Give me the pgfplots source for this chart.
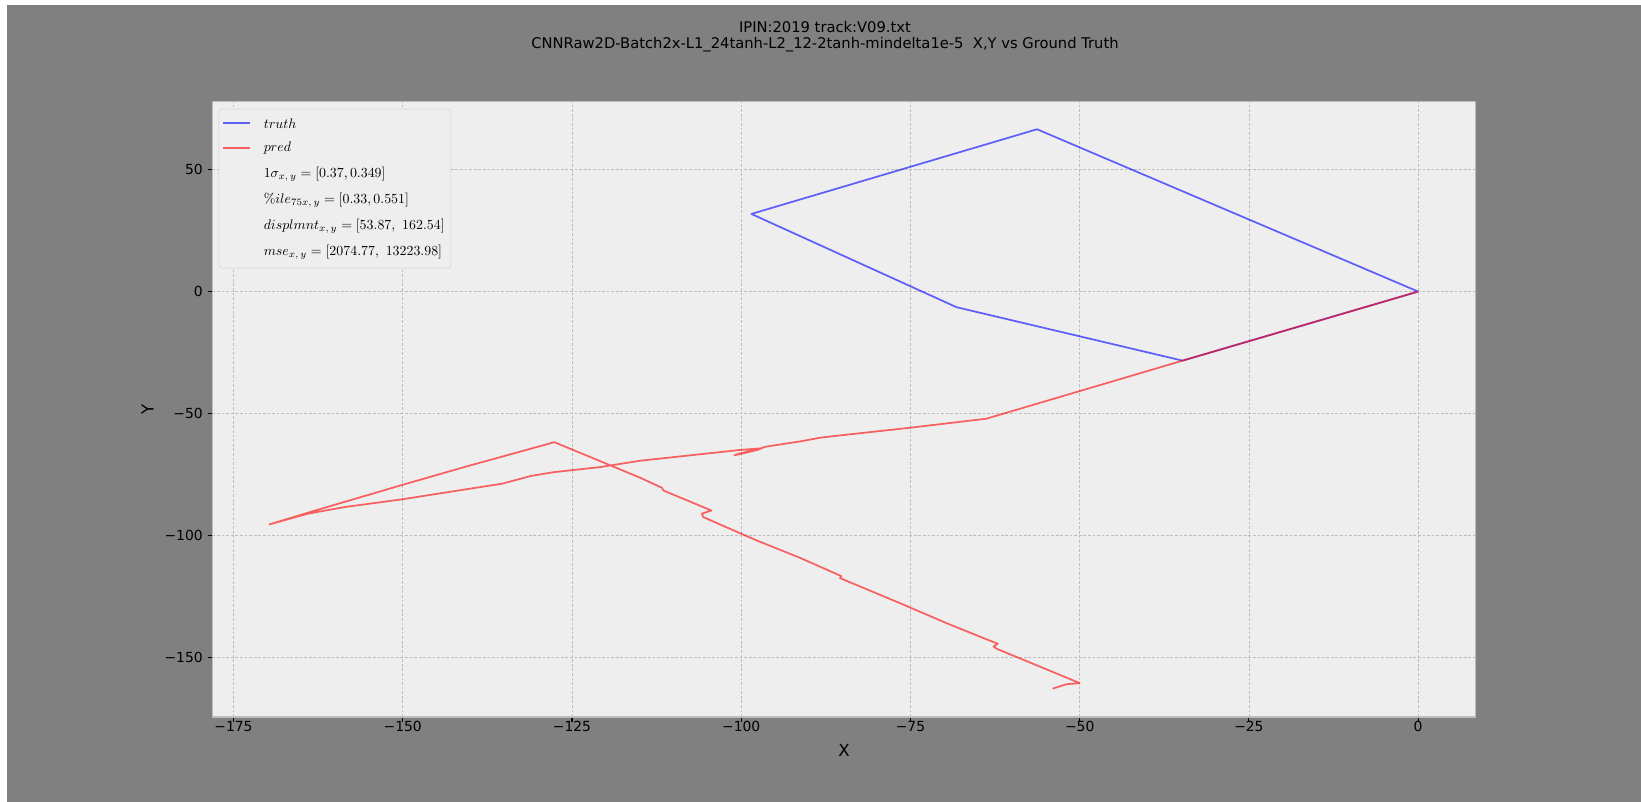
\documentclass[border=0pt]{standalone}
\usepackage[no-math]{fontspec}
\setmainfont{DejaVu Sans}
\usepackage{pgfplots}
\pgfplotsset{compat=1.18}
\definecolor{figbg}{HTML}{808080}
\definecolor{axbg}{HTML}{EEEEEE}
\definecolor{gridc}{HTML}{BDBDBD}
\definecolor{spine}{HTML}{BCBCBC}
\begin{document}
\begin{tikzpicture}
\fill[white] (0,0) rectangle (1181.52pt,577.44pt);
\fill[figbg] (5.04pt,0) rectangle (1181.52pt,573.84pt);
\node[font=\fontsize{10.6}{12}\selectfont, inner sep=0pt] at (594pt,557.8pt) {IPIN:2019 track:V09.txt};
\node[font=\fontsize{10.6}{12}\selectfont, inner sep=0pt] at (594pt,545.0pt) {CNNRaw2D-Batch2x-L1\_24tanh-L2\_12-2tanh-mindelta1e-5\ \ X,Y vs Ground Truth};
\begin{axis}[
  at={(153pt,61.2pt)}, anchor=south west,
  scale only axis, width=909.5pt, height=443.2pt,
  xmin=-178.1, xmax=8.5, ymin=-174.3, ymax=77.9,
  axis background/.style={fill=axbg},
  axis line style={spine, line width=1pt},
  grid=major,
  major grid style={gridc, line width=0.45pt, dash pattern=on 2pt off 1.3pt},
  xtick={-175,-150,-125,-100,-75,-50,-25,0},
  xticklabels={−175,−150,−125,−100,−75,−50,−25,0},
  ytick={-150,-100,-50,0,50},
  yticklabels={−150,−100,−50,0,50},
  tick align=outside, tick pos=left,
  major tick length=3.5pt,
  tick style={black, line width=0.8pt},
  ticklabel style={font=\fontsize{10}{12}\selectfont},
  xticklabel style={yshift=4pt},
  xlabel={X}, ylabel={Y},
  label style={font=\fontsize{12}{14}\selectfont},
  x label style={at={(axis description cs:0.5,-0.054)}, anchor=center},
  y label style={at={(axis description cs:-0.0514,0.5)}, anchor=center},
  legend style={at={(0.0049,0.988)}, anchor=north west, fill=axbg, draw=black!18,
    rounded corners=2pt, font=\fontsize{10.4}{12}\selectfont,
    row sep=4.8pt, column sep=7.5pt, inner xsep=2.5pt, inner ysep=4.5pt,
    nodes={inner sep=2pt}},
  legend cell align=left,
  legend image code/.code={\draw[#1] (0pt,0pt) -- (19pt,0pt);},
]
\addplot[blue, draw opacity=0.6, line width=1.25pt, line join=round] coordinates {
(0,0) (-34.8,-28.3) (-68.2,-6.4) (-98.5,31.8) (-56.3,66.5) (0,0)
};
\addlegendentry[text height=7.5pt, text depth=0pt]{$truth$}
\addplot[red, draw opacity=0.6, line width=1.25pt, line join=round] coordinates {
(0,0) (-34.8,-28.3) (-63.8,-52.1) (-75.1,-55.8) (-86.6,-59.3) (-88.4,-59.9) (-91.3,-61.4)
(-96.5,-63.6) (-97.5,-64.8) (-101.0,-67.1) (-100.5,-66.5) (-97.0,-64.2) (-100.2,-64.9)
(-114.9,-69.3) (-120.8,-71.9) (-127.7,-74.0) (-131.0,-75.5) (-135.3,-78.7) (-150.3,-85.2)
(-158.6,-88.3) (-164.0,-91.0) (-169.7,-95.4)
(-164.0,-90.6) (-150.3,-79.4) (-140.9,-71.9) (-127.6,-61.7)
(-114.9,-76.3) (-111.7,-80.4) (-111.5,-81.5) (-104.4,-89.7) (-105.8,-91.0) (-105.6,-92.4)
(-97.7,-102.0) (-91.3,-109.1) (-85.2,-116.6) (-85.4,-117.4) (-76.6,-127.6) (-69.2,-136.4)
(-62.1,-144.3) (-62.7,-145.4) (-62.3,-146.3) (-50.0,-160.4) (-52.0,-160.9) (-54.0,-162.7)
};
\addlegendentry[text height=7.5pt, text depth=2.5pt]{$pred$}
\addlegendimage{draw opacity=0}
\addlegendentry[text height=7.5pt, text depth=2.5pt]{$1\sigma_{x,\,y} = [0.37, 0.349]$}
\addlegendimage{draw opacity=0}
\addlegendentry[text height=7.5pt, text depth=2.5pt]{$\%ile_{75x,\,y} = [0.33, 0.551]$}
\addlegendimage{draw opacity=0}
\addlegendentry[text height=7.5pt, text depth=2.5pt]{$displmnt_{x,\,y} = [53.87,\ 162.54]$}
\addlegendimage{draw opacity=0}
\addlegendentry[text height=7.5pt, text depth=2.5pt]{$mse_{x,\,y} = [2074.77,\ 13223.98]$}
\end{axis}
\end{tikzpicture}
\end{document}
